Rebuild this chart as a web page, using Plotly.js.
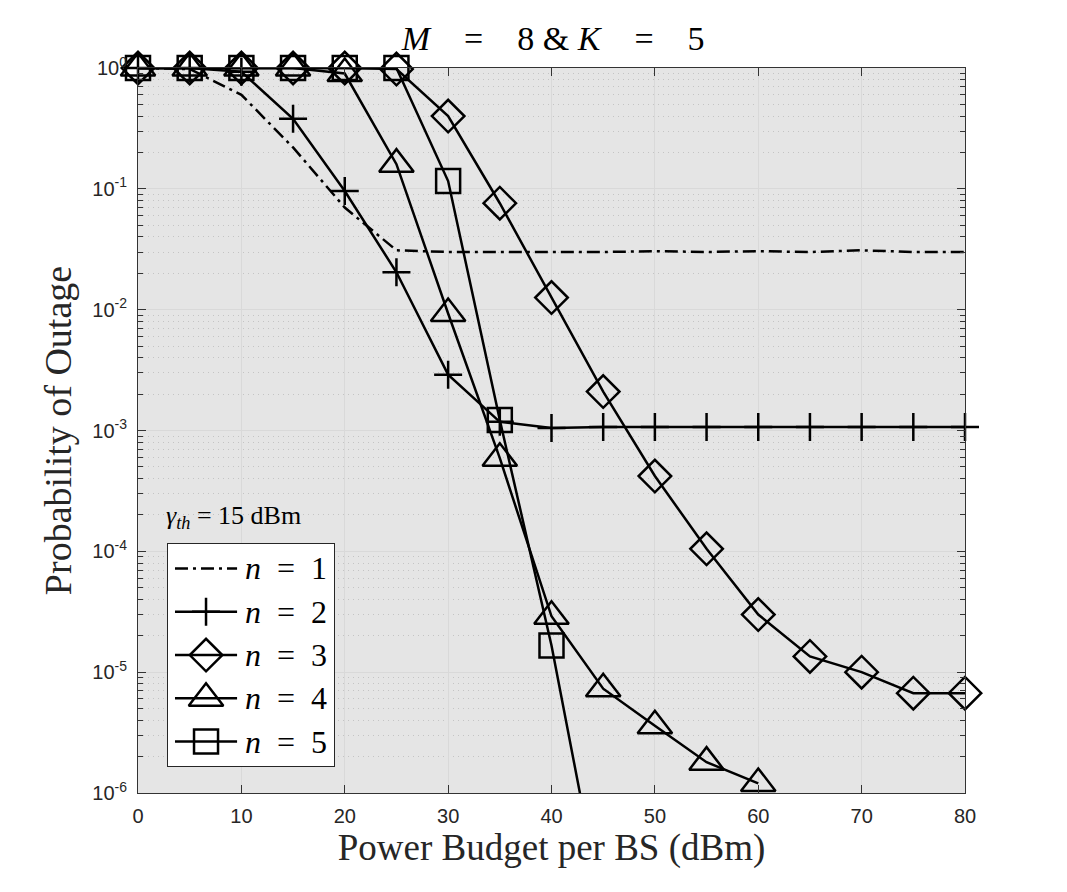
<!DOCTYPE html>
<html>
<head>
<meta charset="utf-8">
<script src="https://cdn.plot.ly/plotly-3.0.1.min.js"></script>
<style>
  html, body { margin: 0; padding: 0; background: #ffffff; }
  #chart { width: 1067px; height: 892px; }
</style>
</head>
<body>
<div id="chart"></div>
<script>
// Transmit power budget per base station (dBm)
const power = [0, 5, 10, 15, 20, 25, 30, 35, 40, 45, 50, 55, 60, 65, 70, 75, 80];

// Outage probability for each number of cooperating links n
const outageN1 = [1, 0.98, 0.6, 0.22, 0.07, 0.031, 0.030, 0.030, 0.030, 0.030, 0.0305, 0.030, 0.0305, 0.030, 0.031, 0.030, 0.030];
const outageN2 = [1, 1, 0.93, 0.38, 0.096, 0.0204, 0.0029, 0.00118, 0.00105, 0.00107, 0.00107, 0.00107, 0.00107, 0.00107, 0.00107, 0.00107, 0.00107];
const outageN3 = [1, 1, 1, 1, 1, 0.98, 0.40, 0.076, 0.0126, 0.0021, 0.00042, 1.05e-4, 3.0e-5, 1.35e-5, 1.0e-5, 6.7e-6, 6.7e-6];
const outageN4 = [1, 1, 1, 1, 0.9, 0.16, 0.0093, 5.9e-4, 2.9e-5, 7.3e-6, 3.6e-6, 1.8e-6, 1.2e-6];
const outageN5 = [1, 1, 1, 1, 1, 1, 0.116, 0.00122, 1.66e-5, 1.0e-7];

const seriesLabels = ['1', '2', '3', '4', '5'];

// y-axis decade ticks
const decadeVals = [1e-6, 1e-5, 1e-4, 1e-3, 1e-2, 1e-1, 1];
const decadeText = ['10<sup>-6</sup>', '10<sup>-5</sup>', '10<sup>-4</sup>', '10<sup>-3</sup>',
                    '10<sup>-2</sup>', '10<sup>-1</sup>', '10<sup>0</sup>'];

// minor ticks at 2..9 within each decade
const minorVals = [];
for (let k = -6; k < 0; k++) {
  for (let m = 2; m <= 9; m++) minorVals.push(m * Math.pow(10, k));
}

const ink = '#000000';
const lineW = 2.5;

// line and marker style per series
const styles = [
  { dash: '13px,5px,3px,5px', symbol: null, size: 0 },
  { dash: 'solid', symbol: 'cross-thin-open', size: 20 },
  { dash: 'solid', symbol: 'diamond-open', size: 25 },
  { dash: 'solid', symbol: 'triangle-up-open', size: 30 },
  { dash: 'solid', symbol: 'square-open', size: 24 }
];

const seriesY = [outageN1, outageN2, outageN3, outageN4, outageN5];

const traces = seriesY.map((ys, i) => {
  const st = styles[i];
  const t = {
    type: 'scatter',
    x: power.slice(0, ys.length),
    y: ys,
    mode: st.symbol ? 'lines+markers' : 'lines',
    line: { color: ink, width: lineW, dash: st.dash },
    cliponaxis: false,
    showlegend: false,
    hoverinfo: 'x+y'
  };
  if (st.symbol) {
    t.marker = { symbol: st.symbol, size: st.size, color: ink,
                 line: { color: ink, width: lineW } };
  }
  return t;
});

// Legend box drawn on its own small subplot so it covers the grid
traces.push({
  type: 'scatter', x: [0, 1, 1, 0, 0], y: [0, 0, 1, 1, 0],
  xaxis: 'x2', yaxis: 'y2', mode: 'none', fill: 'toself',
  fillcolor: '#ffffff', showlegend: false, hoverinfo: 'skip'
});

const rowY = seriesLabels.map((_, i) => 0.89 - 0.195 * i);
const keyLeft = 0.042, keyRight = 0.416, keyMid = 0.229, textX = 0.45;

const serif = 'Liberation Serif, DejaVu Serif, serif';
const sans = 'Liberation Sans, Arial, sans-serif';
const axisInk = '#262626';

const annotations = [];
seriesLabels.forEach((lab, i) => {
  const st = styles[i];
  traces.push({
    type: 'scatter', x: [keyLeft, keyRight], y: [rowY[i], rowY[i]],
    xaxis: 'x2', yaxis: 'y2', mode: 'lines',
    line: { color: ink, width: lineW, dash: st.dash },
    showlegend: false, hoverinfo: 'skip'
  });
  if (st.symbol) {
    traces.push({
      type: 'scatter', x: [keyMid], y: [rowY[i]],
      xaxis: 'x2', yaxis: 'y2', mode: 'markers',
      marker: { symbol: st.symbol, size: st.size, color: ink,
                line: { color: ink, width: lineW } },
      cliponaxis: false, showlegend: false, hoverinfo: 'skip'
    });
  }
  annotations.push({
    xref: 'x2', yref: 'y2', x: textX, y: rowY[i],
    xanchor: 'left', yanchor: 'middle', showarrow: false,
    text: '<i>n</i>\u2002=\u2002' + lab,
    font: { family: serif, size: 32, color: ink }
  });
});

annotations.push({
  xref: 'paper', yref: 'paper', x: 0.031, y: 0.381,
  xanchor: 'left', yanchor: 'middle', showarrow: false,
  text: '<i>γ</i><sub><i>th</i></sub> = 15 dBm',
  font: { family: serif, size: 26, color: ink }
});

const layout = {
  width: 1067,
  height: 892,
  margin: { l: 138, r: 102, t: 68, b: 99 },
  paper_bgcolor: '#ffffff',
  plot_bgcolor: '#e5e5e5',
  showlegend: false,
  title: {
    text: '<i>M</i>\u2003=\u20038 & <i>K</i>\u2003=\u20035',
    font: { family: serif, size: 34, color: ink },
    x: 0.502, xref: 'paper', xanchor: 'center',
    y: 0.957, yref: 'container', yanchor: 'middle'
  },
  xaxis: {
    range: [0, 80],
    tickmode: 'linear', tick0: 0, dtick: 10,
    ticks: 'inside', ticklen: 8, tickwidth: 1, tickcolor: '#333333',
    showline: true, linecolor: '#333333', linewidth: 1, mirror: 'ticks',
    showgrid: true, gridcolor: '#d9d9d9', gridwidth: 1,
    zeroline: false,
    tickfont: { family: sans, size: 20, color: axisInk },
    ticklabelstandoff: 5,
    title: { text: 'Power Budget per BS (dBm)', font: { family: serif, size: 37, color: axisInk }, standoff: 4 },
    fixedrange: true
  },
  yaxis: {
    type: 'log',
    range: [-6, 0],
    tickmode: 'array', tickvals: decadeVals, ticktext: decadeText,
    ticks: 'inside', ticklen: 8, tickwidth: 1, tickcolor: '#333333',
    showline: true, linecolor: '#333333', linewidth: 1, mirror: 'ticks',
    showgrid: true, gridcolor: '#d9d9d9', gridwidth: 1,
    zeroline: false,
    minor: {
      tickmode: 'array', tickvals: minorVals,
      ticks: 'inside', ticklen: 5, tickcolor: '#333333', tickwidth: 1,
      showgrid: true, gridcolor: '#c4c4c4', griddash: '1px,4px', gridwidth: 1
    },
    tickfont: { family: sans, size: 20, color: axisInk },
    ticklabelstandoff: 6,
    title: { text: 'Probability of Outage', font: { family: serif, size: 38, color: axisInk }, standoff: 8 },
    fixedrange: true
  },
  xaxis2: {
    domain: [0.0363, 0.237], range: [0, 1], anchor: 'y2',
    showgrid: false, zeroline: false, showticklabels: false, ticks: '',
    showline: true, mirror: true, linecolor: '#262626', linewidth: 1,
    fixedrange: true
  },
  yaxis2: {
    domain: [0.0372, 0.3434], range: [0, 1], anchor: 'x2',
    showgrid: false, zeroline: false, showticklabels: false, ticks: '',
    showline: true, mirror: true, linecolor: '#262626', linewidth: 1,
    fixedrange: true
  },
  annotations: annotations
};

Plotly.newPlot('chart', traces, layout, { displayModeBar: false, staticPlot: true });
</script>
</body>
</html>
